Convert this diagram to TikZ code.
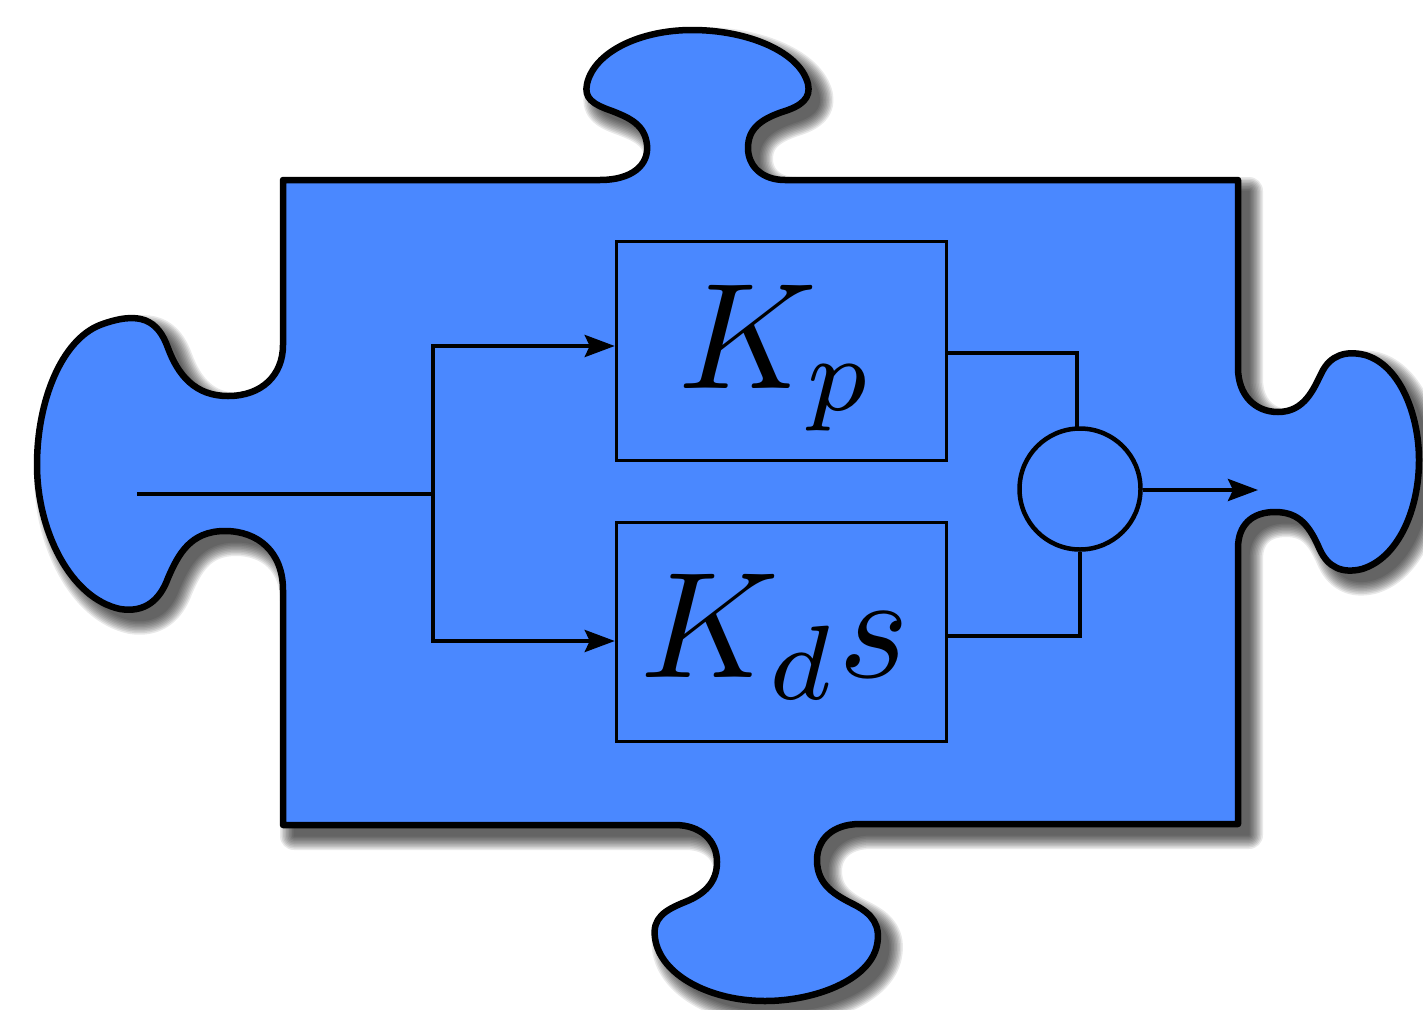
\documentclass[tikz,border=0pt]{standalone}
\usetikzlibrary{arrows.meta}
\definecolor{puzzle}{HTML}{4A88FF}
\newcommand{\puzzlepath}{
 (283,180) -- (600,180)
 .. controls (632,180) and (649,165) .. (647,145)
 .. controls (645,125) and (630,118) .. (612,111)
 .. controls (592,104) and (584,98) .. (587,84)
 .. controls (594,52) and (640,30) .. (692,30)
 .. controls (748,30) and (800,52) .. (808,84)
 .. controls (811,98) and (802,106) .. (782,112)
 .. controls (762,119) and (748,128) .. (748,148)
 .. controls (748,166) and (762,180) .. (785,180)
 -- (1238,180) -- (1238,368)
 .. controls (1238,395) and (1255,412) .. (1278,412)
 .. controls (1305,412) and (1314,388) .. (1322,372)
 .. controls (1330,356) and (1345,350) .. (1365,355)
 .. controls (1400,365) and (1419,415) .. (1419,460)
 .. controls (1419,510) and (1398,558) .. (1362,569)
 .. controls (1342,574) and (1328,567) .. (1320,550)
 .. controls (1310,527) and (1300,512) .. (1275,512)
 .. controls (1252,512) and (1238,525) .. (1238,548)
 -- (1238,824) -- (860,824)
 .. controls (832,824) and (817,840) .. (817,860)
 .. controls (817,885) and (835,895) .. (855,905)
 .. controls (872,914) and (881,925) .. (877,945)
 .. controls (870,980) and (815,1001) .. (765,1001)
 .. controls (710,1001) and (660,975) .. (655,938)
 .. controls (652,918) and (665,910) .. (685,902)
 .. controls (705,894) and (717,882) .. (717,862)
 .. controls (717,840) and (700,825) .. (675,825)
 -- (283,825) -- (283,590)
 .. controls (283,552) and (258,531) .. (225,531)
 .. controls (190,531) and (178,555) .. (168,578)
 .. controls (160,600) and (145,613) .. (120,609)
 .. controls (70,598) and (37,530) .. (37,465)
 .. controls (37,400) and (62,340) .. (100,325)
 .. controls (140,310) and (158,320) .. (168,348)
 .. controls (178,375) and (195,396) .. (228,396)
 .. controls (262,396) and (283,375) .. (283,345)
 -- cycle}
\tikzset{
 blockbox/.style={draw=black,line width=3.5pt,minimum width=330pt,minimum height=219pt,inner sep=0pt},
 sumnode/.style={circle,draw=black,line width=4.5pt,minimum size=121pt,inner sep=0pt},
 wire/.style={draw=black,line width=4pt},
 arrowwire/.style={wire,-{Stealth[length=30pt,width=22pt,inset=5pt]}},
 symb/.style={scale=15.1,text=black,inner sep=0pt}
}
\begin{document}
\begin{tikzpicture}[x=1pt,y=-1pt]
\useasboundingbox (0,0) rectangle (1423,1009);
\fill[white] (0,0) rectangle (1423,1009);
\foreach \w in {28,25,22,19,16,13,10,7,4,1}{
  \begin{scope}[shift={(11,11)},transparency group,opacity=0.085]
  \filldraw[line width=\w pt,draw=black,fill=black,line join=round] \puzzlepath;
  \end{scope}
}
\draw[line width=6.5pt,draw=black,fill=puzzle,line join=round] \puzzlepath;
\node[blockbox] (kp) at (781.5,351) {};
\node[blockbox] (kd) at (781.5,632) {};
\node[sumnode] (sum) at (1080,489) {};
\node[symb,anchor=base west] (kptext) at (675,388) {$K_p$};
\node[symb,anchor=base west] (kdtext) at (637,677) {$K_ds$};
\coordinate (in) at (137,494);
\coordinate (split) at (433,494);
\coordinate (out) at (1258,490);
\coordinate (kpin) at (kp.west |- 0,346);
\coordinate (kdin) at (kd.west |- 0,641);
\coordinate (kpout) at (kp.east |- 0,353);
\coordinate (kdout) at (kd.east |- 0,636);
\draw[wire] (in) -- (split);
\draw[arrowwire] (split) -- (433,346) -- (kpin);
\draw[arrowwire] (split) -- (433,641) -- (kdin);
\draw[wire] (kpout) -- (1077,353) -- (1077,429);
\draw[wire] (kdout) -- (1080,636) -- (sum.south);
\draw[arrowwire] (sum.east |- out) -- (out);
\end{tikzpicture}
\end{document}
